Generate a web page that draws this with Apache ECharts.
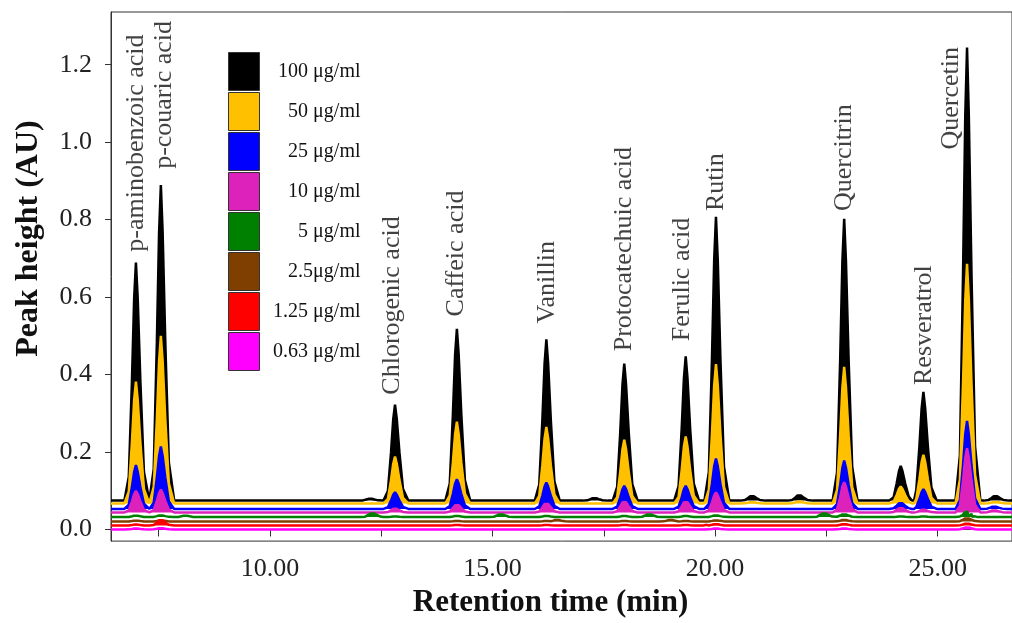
<!DOCTYPE html>
<html>
<head>
<meta charset="utf-8">
<title>Chromatogram</title>
<script src="https://cdn.jsdelivr.net/npm/echarts@6.0.0/dist/echarts.min.js"></script>
<style>
  html, body { margin: 0; padding: 0; background: #fff; }
  #chart { width: 1012px; height: 623px; }
</style>
</head>
<body>
<div id="chart"></div>
<script>
// concentration traces (drawn 100 first so lower ones sit on top)
const CONC_NAMES = ['100 μg/ml', '50 μg/ml', '25 μg/ml', '10 μg/ml', '5 μg/ml', '2.5μg/ml', '1.25 μg/ml', '0.63 μg/ml'];
const CONC_COLORS = ['#000000', '#FFC000', '#0000FF', '#DD22BB', '#008000', '#7F3F00', '#FF0000', '#FF00FF'];
const BASELINES = [0.0745, 0.067, 0.053, 0.044, 0.032, 0.0205, 0.010, 0.0];

// retention times of the main peaks (min)
const PEAK_TIMES = [6.99, 7.55, 12.81, 14.20, 16.21, 17.96, 19.34, 20.02, 22.90, 24.17, 24.68, 25.66];

// apex value of each main peak per trace (null = no visible peak)
const H_100 = [0.689, 0.889, 0.322, 0.518, 0.491, 0.428, 0.447, 0.807, 0.802, 0.164, 0.355, 1.244];
const H_50 = [0.382, 0.500, 0.188, 0.278, 0.265, 0.232, 0.240, 0.427, 0.420, 0.111, 0.193, 0.686];
const H_25 = [0.166, 0.214, 0.096, 0.130, 0.121, 0.113, 0.113, 0.183, 0.178, 0.070, 0.104, 0.280];
const H_10 = [0.100, 0.103, 0.055, 0.066, 0.070, 0.075, 0.075, 0.096, 0.122, 0.057, 0.052, 0.210];
const H_5 = [0.036, 0.037, 0.034, 0.035, 0.035, 0.035, 0.035, 0.037, 0.040, 0.034, 0.034, 0.048];
const H_2_5 = [0.023, 0.024, null, 0.022, 0.022, 0.022, 0.022, 0.024, 0.025, null, null, 0.030];
const H_1_25 = [0.013, 0.026, null, 0.012, 0.012, 0.012, 0.012, 0.014, 0.014, null, null, 0.016];
const H_0_63 = [0.003, 0.004, null, null, null, null, null, 0.003, 0.003, null, null, 0.006];

// small extra bumps on the baselines [time, apex]
const M_100 = [[12.25, 0.080], [17.29, 0.082], [20.83, 0.088], [21.89, 0.090], [26.30, 0.088]];
const M_50 = [[20.83, 0.071], [21.89, 0.073], [26.30, 0.072]];
const M_25 = [[26.27, 0.060]];
const M_10 = [[26.27, 0.050]];
const M_5 = [[8.10, 0.036], [12.30, 0.043], [15.19, 0.040], [18.52, 0.040], [22.45, 0.043], [25.60, 0.038]];
const M_2_5 = [[16.45, 0.025], [19.00, 0.025]];
const M_1_25 = [[19.90, 0.014]];
const M_0_63 = [];

// peak profile: time offset and fraction of height
const SHAPE_DT = [-0.26, -0.16, -0.09, -0.04, 0, 0.04, 0.10, 0.18, 0.30];
const SHAPE_F = [0, 0.1, 0.5, 0.85, 1, 0.85, 0.5, 0.12, 0];

// compound labels: name, time and value where the label starts
const LABEL_NAMES = ['p-aminobenzoic acid', 'p-couaric acid', 'Chlorogenic acid', 'Caffeic acid', 'Vanillin',
  'Protocatechuic acid', 'Ferulic acid', 'Rutin', 'Quercitrin', 'Resveratrol', 'Quercetin'];
const LABEL_T = [7.00, 7.63, 12.75, 14.19, 16.23, 17.96, 19.26, 20.02, 22.90, 24.70, 25.30];
const LABEL_Y = [0.717, 0.931, 0.348, 0.550, 0.532, 0.460, 0.486, 0.822, 0.822, 0.373, 0.981];

const X_MIN = 6.43;
const X_MAX = 26.67;
const X_TICKS = [7.5, 10, 12.5, 15, 17.5, 20, 22.5, 25];
const X_LABELS = [10, 15, 20, 25];
const Y_TICKS = [0, 0.2, 0.4, 0.6, 0.8, 1.0, 1.2];

const HEIGHTS = [H_100, H_50, H_25, H_10, H_5, H_2_5, H_1_25, H_0_63];
const MINORS = [M_100, M_50, M_25, M_10, M_5, M_2_5, M_1_25, M_0_63];

const FONT = 'Liberation Serif';

function buildTrace (base, heights, minors) {
  const peaks = []
  heights.forEach((h, i) => {
    if (h != null) peaks.push([PEAK_TIMES[i], h])
  })
  minors.forEach(p => peaks.push(p))
  const pts = [[X_MIN, base], [X_MAX, base]]
  peaks.forEach(p => {
    SHAPE_DT.forEach((dt, k) => {
      pts.push([p[0] + dt, base + (p[1] - base) * SHAPE_F[k]])
    })
  })
  pts.sort((a, b) => a[0] - b[0])
  return pts
}

const series = CONC_NAMES.map((name, i) => ({
  name: name,
  type: 'line',
  data: buildTrace(BASELINES[i], HEIGHTS[i], MINORS[i]),
  showSymbol: false,
  symbol: 'none',
  silent: true,
  itemStyle: { color: CONC_COLORS[i] },
  lineStyle: { color: CONC_COLORS[i], width: 2.5 },
  areaStyle: { color: CONC_COLORS[i], opacity: 1, origin: BASELINES[i] }
}))

series.push({
  name: 'labels',
  type: 'scatter',
  symbolSize: 0,
  silent: true,
  z: 5,
  data: LABEL_NAMES.map((n, i) => ({ name: n, value: [LABEL_T[i], LABEL_Y[i]] })),
  label: {
    show: true,
    position: 'inside',
    formatter: '{b}',
    rotate: 90,
    align: 'left',
    verticalAlign: 'middle',
    fontFamily: FONT,
    fontSize: 26,
    color: '#111'
  }
})

const chart = echarts.init(document.getElementById('chart'), null, { renderer: 'canvas' })
chart.setOption({
  animation: false,
  backgroundColor: '#fff',
  grid: {
    left: 111,
    right: -1,
    top: 12,
    bottom: 78,
    show: true,
    borderColor: '#333',
    borderWidth: 1
  },
  legend: {
    data: CONC_NAMES,
    orient: 'vertical',
    left: 223,
    top: 47,
    icon: 'rect',
    itemWidth: 31,
    itemHeight: 38,
    itemGap: 1,
    itemStyle: { borderColor: '#333', borderWidth: 1 },
    selectedMode: false,
    formatter: name => '{r|' + name + '}',
    textStyle: {
      fontFamily: FONT,
      fontSize: 20,
      color: '#111',
      rich: {
        r: { width: 96, align: 'right', fontFamily: FONT, fontSize: 20, color: '#111' }
      }
    }
  },
  xAxis: {
    type: 'value',
    min: X_MIN,
    max: X_MAX,
    name: 'Retention time (min)',
    nameLocation: 'middle',
    nameGap: 44,
    nameTextStyle: {
      fontFamily: FONT,
      fontSize: 31,
      fontWeight: 'bold',
      color: '#111',
      padding: [0, 22, 0, 0]
    },
    axisLine: { show: true, lineStyle: { color: '#333', width: 1 } },
    axisTick: {
      show: true,
      inside: false,
      length: 7,
      customValues: X_TICKS,
      lineStyle: { color: '#333' }
    },
    axisLabel: {
      customValues: X_LABELS,
      formatter: v => v.toFixed(2),
      fontFamily: FONT,
      fontSize: 26,
      color: '#222',
      margin: 15
    },
    splitLine: { show: false }
  },
  yAxis: {
    type: 'value',
    min: -0.030,
    max: 1.336,
    name: 'Peak height (AU)',
    nameLocation: 'middle',
    nameGap: 66,
    nameTextStyle: {
      fontFamily: FONT,
      fontSize: 32,
      fontWeight: 'bold',
      color: '#111',
      padding: [0, 0, 0, 76]
    },
    axisLine: { show: true, lineStyle: { color: '#333', width: 1 } },
    axisTick: {
      show: true,
      inside: false,
      length: 6,
      customValues: Y_TICKS,
      lineStyle: { color: '#333' }
    },
    axisLabel: {
      customValues: Y_TICKS,
      formatter: v => v.toFixed(1),
      fontFamily: FONT,
      fontSize: 26,
      color: '#222',
      margin: 19
    },
    splitLine: { show: false }
  },
  series: series
})
</script>
</body>
</html>
